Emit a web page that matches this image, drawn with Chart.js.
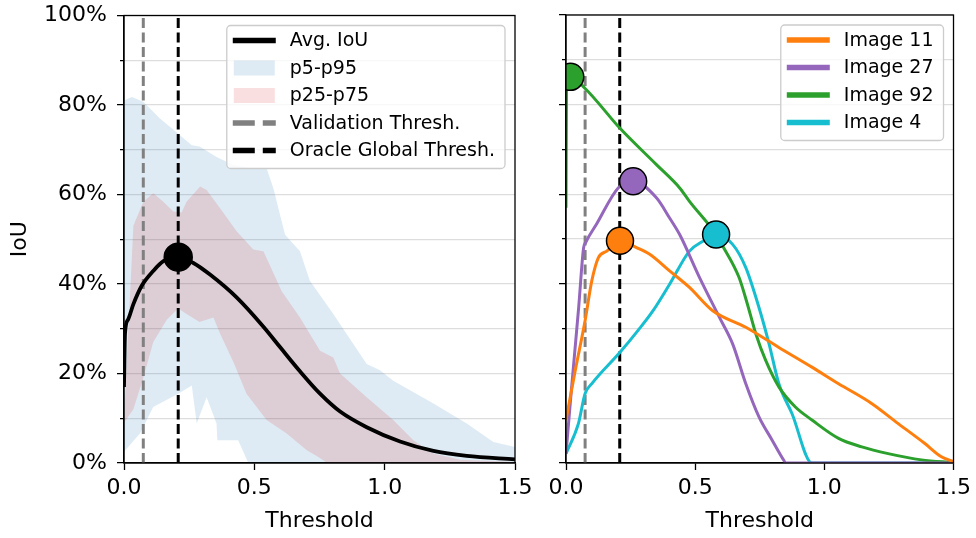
<!DOCTYPE html>
<html>
<head>
<meta charset="utf-8">
<script src="https://cdn.jsdelivr.net/npm/chart.js@4.4.0/dist/chart.umd.min.js"></script>
<style>
  body { margin: 0; background: #fff; }
  #wrap { position: relative; width: 976px; height: 538px; }
  #chartLeft { position: absolute; left: 0; top: 0; }
  #chartRight { position: absolute; left: 540px; top: 0; }
</style>
</head>
<body>
<div id="wrap">
  <canvas id="chartLeft" width="540" height="538"></canvas>
  <canvas id="chartRight" width="436" height="538"></canvas>
</div>
<script>
// thresholds
const xTicks = [0, 0.5, 1.0, 1.5];
const valThresh = 0.074;
const oracleThresh = 0.208;

// left panel: average IoU and percentile bands
const avgX = [0, 0.004, 0.015, 0.036, 0.068, 0.112, 0.151, 0.208, 0.266, 0.33, 0.432, 0.534, 0.6, 0.675, 0.752, 0.829, 0.931, 1.059, 1.187, 1.315, 1.5];
const avgY = [17, 29, 32, 35.5, 39.6, 42.9, 45.1, 46, 44.7, 42.1, 37, 30.5, 25.8, 20.5, 15.5, 11.5, 8, 4.8, 2.7, 1.6, 0.8];
const avgPeak = { x: 0.208, y: 46 };

const p95X = [0, 0.03, 0.074, 0.138, 0.208, 0.26, 0.29, 0.355, 0.42, 0.483, 0.547, 0.573, 0.618, 0.675, 0.713, 0.803, 0.931, 0.982, 1.033, 1.187, 1.315, 1.417, 1.5];
const p95Y = [81, 81.8, 80.7, 77, 73.6, 71, 70.7, 68.4, 66.6, 65.9, 65.9, 61.4, 51, 47.3, 40.7, 33.3, 22.1, 20.7, 18.4, 13.3, 8.8, 4.7, 3.6];
const p5X = [0, 0.061, 0.112, 0.208, 0.26, 0.279, 0.317, 0.355, 0.358, 0.438, 0.477, 1.5];
const p5Y = [2.5, 6.6, 12.5, 15.5, 17.3, 8.8, 14.7, 8.8, 5.1, 5.1, 0, 0];

const p75X = [0, 0.036, 0.074, 0.112, 0.151, 0.189, 0.221, 0.24, 0.292, 0.317, 0.368, 0.432, 0.496, 0.535, 0.605, 0.675, 0.752, 0.803, 0.829, 0.931, 1.033, 1.11, 1.187, 1.29, 1.5];
const p75Y = [10, 53, 58.4, 60.3, 58.4, 56.2, 56, 58.4, 61.8, 61, 57, 51.8, 47.7, 47.3, 38.4, 32.5, 25.1, 23.6, 20, 14.7, 9.6, 5.1, 2.1, 0.7, 0.2];
const p25X = [0, 0.036, 0.074, 0.112, 0.164, 0.208, 0.24, 0.29, 0.343, 0.368, 0.42, 0.47, 0.547, 0.624, 0.7, 0.75, 0.78, 1.5];
const p25Y = [9, 12, 19, 27, 32, 34.5, 33.3, 31.5, 32.5, 29, 22.5, 15.5, 9.6, 6.6, 2.9, 1.2, 0, 0];

// right panel: single images
const img11X = [0, 0.036, 0.074, 0.1, 0.125, 0.158, 0.209, 0.273, 0.324, 0.401, 0.478, 0.568, 0.696, 0.824, 0.952, 1.055, 1.183, 1.286, 1.388, 1.453, 1.5];
const img11Y = [9.6, 20.7, 31.8, 40.7, 45.8, 47.3, 49.6, 48.1, 46.6, 42.9, 39.2, 34, 30.3, 25.8, 21.4, 17.7, 13.3, 8.8, 4.4, 1.4, 0.3];
const img11Peak = { x: 0.209, y: 49.6 };

const img27X = [0, 0.023, 0.049, 0.068, 0.076, 0.119, 0.202, 0.26, 0.35, 0.401, 0.44, 0.517, 0.594, 0.645, 0.696, 0.747, 0.798, 0.843, 0.85, 1.5];
const img27Y = [2.1, 17.7, 34.7, 48, 49.2, 53.4, 61.4, 62.9, 59.2, 54.7, 51, 41.4, 32.5, 26.6, 17.7, 10.3, 5.1, 0.6, 0, 0];
const img27Peak = { x: 0.26, y: 62.9 };

const img92X = [0, 0.002, 0.0165, 0.074, 0.209, 0.35, 0.44, 0.478, 0.581, 0.606, 0.67, 0.702, 0.735, 0.773, 0.824, 0.888, 0.952, 1.055, 1.145, 1.247, 1.376, 1.5];
const img92Y = [57, 85.5, 86.2, 83.6, 74.7, 66.6, 61.4, 58.4, 51, 48.5, 41.4, 35.5, 28.8, 22.9, 17, 12.5, 9.6, 5.5, 3.6, 2.1, 0.7, 0.1];
const img92Peak = { x: 0.0165, y: 86.2 };

const img4X = [0, 0.048, 0.074, 0.1, 0.209, 0.279, 0.337, 0.401, 0.478, 0.53, 0.581, 0.645, 0.696, 0.747, 0.786, 0.824, 0.875, 0.952, 1.5];
const img4Y = [2.1, 8.8, 15.5, 17.7, 24.7, 29.6, 34, 39.9, 47.3, 49.5, 51, 48.8, 43.6, 34.7, 26.6, 17.7, 11, 0, 0];
const img4Peak = { x: 0.581, y: 51 };

const C_ORANGE = '#ff7f0e', C_PURPLE = '#9467bd', C_GREEN = '#2ca02c', C_CYAN = '#17becf';
const BLUE_BAND = 'rgba(31,119,180,0.15)', RED_BAND = 'rgba(214,39,40,0.15)';

Chart.defaults.font.family = 'DejaVu Sans';
Chart.defaults.color = 'black';

const pts = (xs, ys) => xs.map((x, i) => ({ x, y: ys[i] }));
const vline = t => [{ x: t, y: 0 }, { x: t, y: 100 }];

function curve(data, color, width) {
  return { data, borderColor: color, borderWidth: width, pointRadius: 0, cubicInterpolationMode: 'monotone',
           borderJoinStyle: 'round', fill: false, order: 1 };
}
function marker(p, color, r) {
  return { data: [p], showLine: false, pointRadius: r, pointHoverRadius: r, backgroundColor: color,
           borderColor: 'black', borderWidth: 1.5, order: 0 };
}
function dashed(t, color) {
  return { data: vline(t), borderColor: color, borderWidth: 3, borderDash: [10, 4.5], pointRadius: 0, fill: false, order: 2 };
}
function band(data, fillTo, color, order) {
  return { data, borderWidth: 0, pointRadius: 0, borderColor: 'rgba(0,0,0,0)', backgroundColor: color,
           fill: fillTo, tension: 0, order };
}

// y ticks are drawn from their outer end towards the axis, so the dash
// pattern skips the outer part: 7px major ticks, 4px minor ticks
const Y_TICK_LEN = 17;
function makeScales(showY, yWidth) {
  return {
    x: {
      type: 'linear', min: 0, max: 1.5,
      afterBuildTicks: s => { s.ticks = xTicks.map(v => ({ value: v })); },
      ticks: { callback: v => v.toFixed(1), font: { size: 22 }, maxRotation: 0, autoSkip: false, padding: 5, color: 'black' },
      grid: { drawOnChartArea: false, tickLength: 7, tickColor: 'black', tickWidth: 1.3 },
      border: { color: 'black', width: 1.3 },
      title: { display: true, text: 'Threshold', font: { size: 22 }, color: 'black', padding: { top: 0, bottom: 4 } },
      afterFit: s => { s.height = 75; }
    },
    y: {
      min: 0, max: 100,
      ticks: { stepSize: 10, font: { size: 22, lineHeight: 1.1 }, padding: 0, color: 'black',
               callback: v => (showY && v % 20 === 0) ? v + '%' : '' },
      grid: { color: '#dddddd', lineWidth: 1.3, tickLength: Y_TICK_LEN, tickColor: 'black', tickWidth: 1.3,
              tickBorderDash: c => (c.tick && c.tick.value % 20 !== 0)
                ? [0, Y_TICK_LEN - 4, 4, 100] : [0, Y_TICK_LEN - 7, 7, 100] },
      border: { color: 'black', width: 1.3 },
      title: { display: showY, text: 'IoU', font: { size: 22 }, color: 'black', padding: { top: 7, bottom: 0 } },
      afterFit: s => { s.width = yWidth; }
    }
  };
}

const frame = {
  id: 'frame',
  afterDatasetsDraw(chart) {
    const { ctx, chartArea: a } = chart;
    ctx.save();
    ctx.strokeStyle = 'black';
    ctx.lineWidth = 1.3;
    ctx.strokeRect(a.left, a.top, a.right - a.left, a.bottom - a.top);
    ctx.restore();
  }
};

function legendBox(items) {
  return {
    id: 'legendBox',
    afterDraw(chart) {
      const { ctx, chartArea: a } = chart;
      ctx.save();
      ctx.font = '19px "DejaVu Sans"';
      const textW = Math.max(...items.map(it => ctx.measureText(it.label).width));
      const w = 6 + 43 + 14 + textW + 10;
      const h = 15 + 27.5 * (items.length - 1) + 18;
      const x0 = a.right - 10 - w, y0 = a.top + 10;
      ctx.fillStyle = 'rgba(255,255,255,0.8)';
      ctx.strokeStyle = '#cccccc';
      ctx.lineWidth = 1.3;
      ctx.beginPath();
      ctx.roundRect(x0, y0, w, h, 4);
      ctx.fill();
      ctx.stroke();
      items.forEach((it, i) => {
        const cy = y0 + 15 + i * 27.5;
        const sx = x0 + 6;
        if (it.patch) {
          ctx.fillStyle = it.color;
          ctx.fillRect(sx + 1, cy - 7.5, 41, 15);
        } else {
          ctx.strokeStyle = it.color;
          ctx.lineWidth = 5.5;
          ctx.setLineDash(it.dash || []);
          ctx.beginPath();
          ctx.moveTo(sx, cy);
          ctx.lineTo(sx + 43, cy);
          ctx.stroke();
          ctx.setLineDash([]);
        }
        ctx.fillStyle = 'black';
        ctx.textBaseline = 'middle';
        ctx.fillText(it.label, sx + 57, cy + 1);
      });
      ctx.restore();
    }
  };
}

const baseOptions = (showY, yWidth, padRight) => ({
  responsive: false,
  animation: false,
  layout: { padding: { top: 13, right: padRight, left: 0, bottom: 0 } },
  plugins: { legend: { display: false }, tooltip: { enabled: false } },
  scales: makeScales(showY, yWidth)
});

new Chart(document.getElementById('chartLeft'), {
  type: 'line',
  data: {
    datasets: [
      marker(avgPeak, 'black', 14),
      curve(pts(avgX, avgY), 'black', 3.8),
      dashed(oracleThresh, 'black'),
      dashed(valThresh, '#808080'),
      band(pts(p75X, p75Y), 5, RED_BAND, 3),
      band(pts(p25X, p25Y), false, RED_BAND, 3),
      band(pts(p95X, p95Y), 7, BLUE_BAND, 4),
      band(pts(p5X, p5Y), false, BLUE_BAND, 4)
    ]
  },
  options: baseOptions(true, 124, 25),
  plugins: [frame, legendBox([
    { label: 'Avg. IoU', color: 'black' },
    { label: 'p5-p95', color: BLUE_BAND, patch: true },
    { label: 'p25-p75', color: RED_BAND, patch: true },
    { label: 'Validation Thresh.', color: '#808080', dash: [22, 8] },
    { label: 'Oracle Global Thresh.', color: 'black', dash: [22, 8] }
  ])]
});

new Chart(document.getElementById('chartRight'), {
  type: 'line',
  data: {
    datasets: [
      marker(img11Peak, C_ORANGE, 13.5),
      marker(img27Peak, C_PURPLE, 13.5),
      marker(img92Peak, C_GREEN, 13.5),
      marker(img4Peak, C_CYAN, 13.5),
      curve(pts(img11X, img11Y), C_ORANGE, 3),
      curve(pts(img27X, img27Y), C_PURPLE, 3),
      curve(pts(img92X, img92Y), C_GREEN, 3),
      curve(pts(img4X, img4Y), C_CYAN, 3),
      dashed(oracleThresh, 'black'),
      dashed(valThresh, '#808080')
    ]
  },
  options: baseOptions(false, 26, 20),
  plugins: [frame, legendBox([
    { label: 'Image 11', color: C_ORANGE },
    { label: 'Image 27', color: C_PURPLE },
    { label: 'Image 92', color: C_GREEN },
    { label: 'Image 4', color: C_CYAN }
  ])]
});
</script>
</body>
</html>
